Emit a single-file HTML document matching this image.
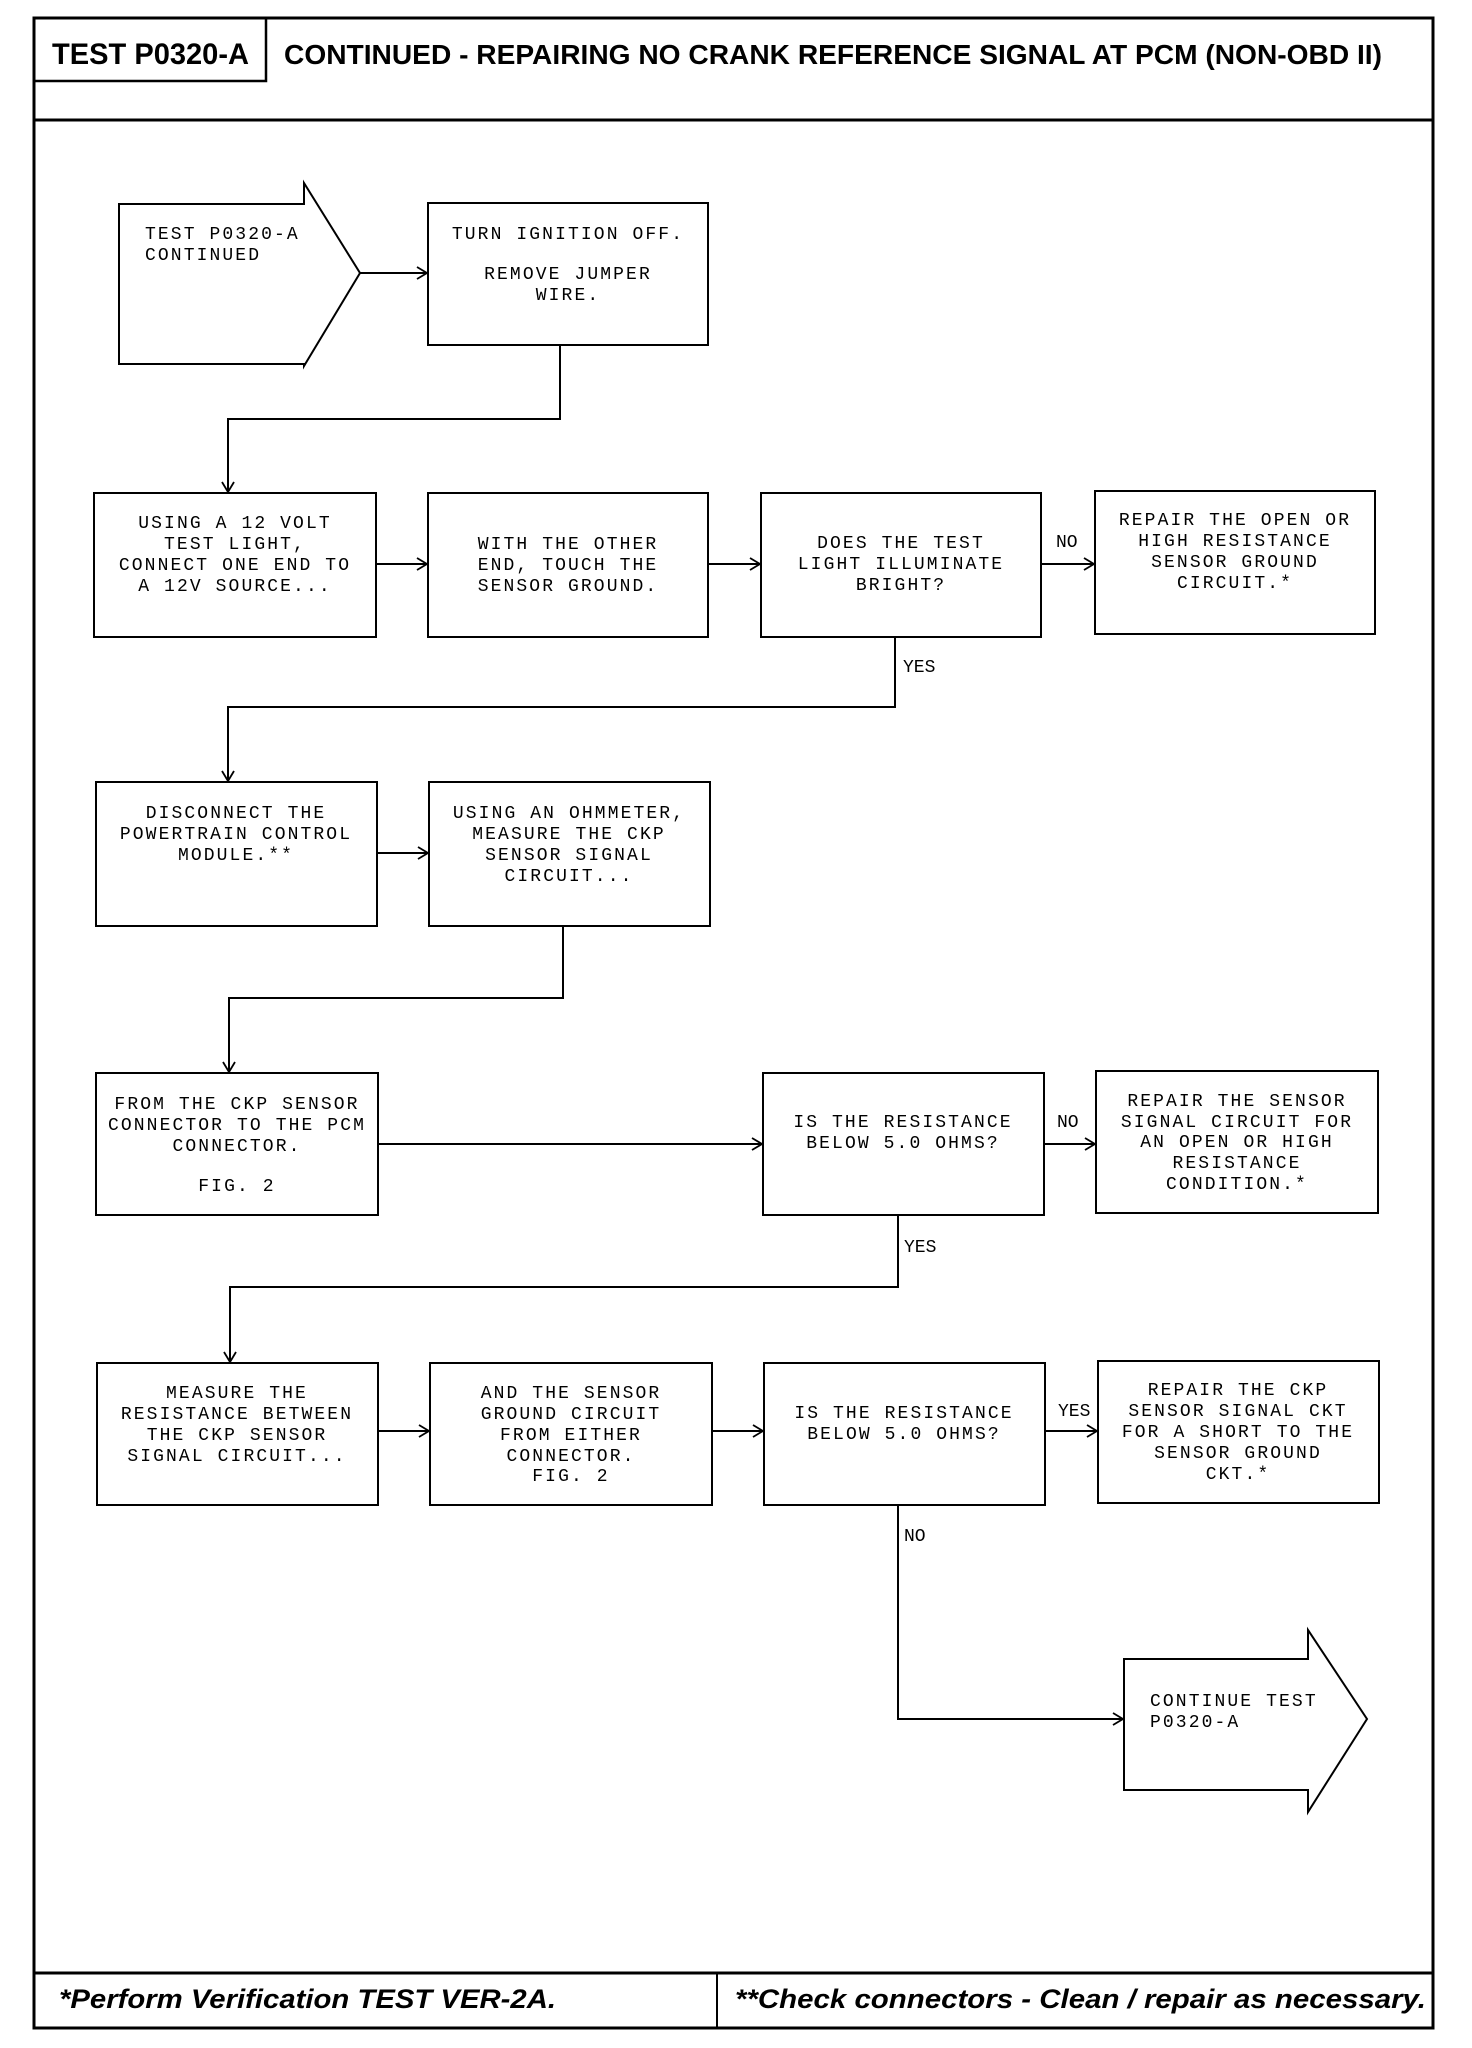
<!DOCTYPE html>
<html><head><meta charset="utf-8"><style>
html,body{margin:0;padding:0;background:#fff;}
svg{display:block;}
.t{font-family:"Liberation Mono",monospace;font-size:18px;letter-spacing:2.1px;fill:#000;}
.c{text-anchor:middle;}
</style></head><body>
<svg width="1472" height="2048" viewBox="0 0 1472 2048" xmlns="http://www.w3.org/2000/svg">
<g fill="none" stroke="#000" stroke-width="2">
<!-- frame -->
<rect x="34" y="18" width="1399" height="2010" stroke-width="3"/>
<line x1="34" y1="120" x2="1433" y2="120" stroke-width="3"/>
<polyline points="34,81 266,81 266,18" stroke-width="2.5"/>
<line x1="34" y1="1973" x2="1433" y2="1973" stroke-width="3"/>
<line x1="717" y1="1973" x2="717" y2="2028" stroke-width="2"/>
<!-- start arrow -->
<polygon points="119,204 304,204 304,183 360,273 304,366 304,364 119,364"/>
<rect x="428" y="203" width="280" height="142"/>
<!-- row2 -->
<rect x="94" y="493" width="282" height="144"/>
<rect x="428" y="493" width="280" height="144"/>
<rect x="761" y="493" width="280" height="144"/>
<rect x="1095" y="491" width="280" height="143"/>
<!-- row3 -->
<rect x="96" y="782" width="281" height="144"/>
<rect x="429" y="782" width="281" height="144"/>
<!-- row4 -->
<rect x="96" y="1073" width="282" height="142"/>
<rect x="763" y="1073" width="281" height="142"/>
<rect x="1096" y="1071" width="282" height="142"/>
<!-- row5 -->
<rect x="97" y="1363" width="281" height="142"/>
<rect x="430" y="1363" width="282" height="142"/>
<rect x="764" y="1363" width="281" height="142"/>
<rect x="1098" y="1361" width="281" height="142"/>
<!-- end arrow -->
<polygon points="1124,1659 1308,1659 1308,1630 1367,1719 1308,1812 1308,1790 1124,1790"/>
<!-- connectors -->
<line x1="360" y1="273" x2="426" y2="273"/>
<polyline points="560,345 560,419 228,419 228,491"/>
<line x1="376" y1="564" x2="426" y2="564"/>
<line x1="708" y1="564" x2="759" y2="564"/>
<line x1="1041" y1="564" x2="1093" y2="564"/>
<polyline points="895,637 895,707 228,707 228,780"/>
<line x1="376" y1="853" x2="427" y2="853"/>
<polyline points="563,926 563,998 229,998 229,1071"/>
<line x1="377" y1="1144" x2="761" y2="1144"/>
<line x1="1044" y1="1144" x2="1094" y2="1144"/>
<polyline points="898,1215 898,1287 230,1287 230,1361"/>
<line x1="378" y1="1431" x2="428" y2="1431"/>
<line x1="712" y1="1431" x2="762" y2="1431"/>
<line x1="1045" y1="1431" x2="1096" y2="1431"/>
<polyline points="898,1505 898,1719 1122,1719"/>
<!-- arrowheads -->
<g stroke-width="1.8">
<polyline points="417,267 427,273 417,279"/>
<polyline points="222,482 228,492 234,482"/>
<polyline points="417,558 427,564 417,570"/>
<polyline points="750,558 760,564 750,570"/>
<polyline points="1084,558 1094,564 1084,570"/>
<polyline points="222,771 228,781 234,771"/>
<polyline points="418,847 428,853 418,859"/>
<polyline points="223,1062 229,1072 235,1062"/>
<polyline points="752,1138 762,1144 752,1150"/>
<polyline points="1085,1138 1095,1144 1085,1150"/>
<polyline points="224,1352 230,1362 236,1352"/>
<polyline points="419,1425 429,1431 419,1437"/>
<polyline points="753,1425 763,1431 753,1437"/>
<polyline points="1087,1425 1097,1431 1087,1437"/>
<polyline points="1113,1713 1123,1719 1113,1725"/>
</g>
</g>
<!-- header text -->
<text x="52" y="64" font-family="Liberation Sans,sans-serif" font-weight="bold" font-size="30" textLength="197" lengthAdjust="spacingAndGlyphs">TEST P0320-A</text>
<text x="284" y="64" font-family="Liberation Sans,sans-serif" font-weight="bold" font-size="28" textLength="1098" lengthAdjust="spacingAndGlyphs">CONTINUED - REPAIRING NO CRANK REFERENCE SIGNAL AT PCM (NON-OBD II)</text>
<text x="59" y="2008" font-family="Liberation Sans,sans-serif" font-weight="bold" font-style="italic" font-size="27" textLength="497" lengthAdjust="spacingAndGlyphs">*Perform Verification TEST VER-2A.</text>
<text x="735" y="2008" font-family="Liberation Sans,sans-serif" font-weight="bold" font-style="italic" font-size="27" textLength="691" lengthAdjust="spacingAndGlyphs">**Check connectors - Clean / repair as necessary.</text>
<!-- box text -->
<g class="t">
<text x="145" y="239">TEST P0320-A</text>
<text x="145" y="260">CONTINUED</text>
<g class="c">
<text x="568" y="239">TURN IGNITION OFF.</text>
<text x="568" y="279">REMOVE JUMPER</text>
<text x="568" y="300">WIRE.</text>
<text x="235" y="528">USING A 12 VOLT</text>
<text x="235" y="549">TEST LIGHT,</text>
<text x="235" y="570">CONNECT ONE END TO</text>
<text x="235" y="591">A 12V SOURCE...</text>
<text x="568" y="549">WITH THE OTHER</text>
<text x="568" y="570">END, TOUCH THE</text>
<text x="568" y="591">SENSOR GROUND.</text>
<text x="901" y="548">DOES THE TEST</text>
<text x="901" y="569">LIGHT ILLUMINATE</text>
<text x="901" y="590">BRIGHT?</text>
<text x="1235" y="525">REPAIR THE OPEN OR</text>
<text x="1235" y="546">HIGH RESISTANCE</text>
<text x="1235" y="567">SENSOR GROUND</text>
<text x="1235" y="588">CIRCUIT.*</text>
<text x="236" y="818">DISCONNECT THE</text>
<text x="236" y="839">POWERTRAIN CONTROL</text>
<text x="236" y="860">MODULE.**</text>
<text x="569" y="818">USING AN OHMMETER,</text>
<text x="569" y="839">MEASURE THE CKP</text>
<text x="569" y="860">SENSOR SIGNAL</text>
<text x="569" y="881">CIRCUIT...</text>
<text x="237" y="1109">FROM THE CKP SENSOR</text>
<text x="237" y="1130">CONNECTOR TO THE PCM</text>
<text x="237" y="1151">CONNECTOR.</text>
<text x="237" y="1191">FIG. 2</text>
<text x="903" y="1127">IS THE RESISTANCE</text>
<text x="903" y="1148">BELOW 5.0 OHMS?</text>
<text x="1237" y="1106">REPAIR THE SENSOR</text>
<text x="1237" y="1127">SIGNAL CIRCUIT FOR</text>
<text x="1237" y="1147">AN OPEN OR HIGH</text>
<text x="1237" y="1168">RESISTANCE</text>
<text x="1237" y="1189">CONDITION.*</text>
<text x="237" y="1398">MEASURE THE</text>
<text x="237" y="1419">RESISTANCE BETWEEN</text>
<text x="237" y="1440">THE CKP SENSOR</text>
<text x="237" y="1461">SIGNAL CIRCUIT...</text>
<text x="571" y="1398">AND THE SENSOR</text>
<text x="571" y="1419">GROUND CIRCUIT</text>
<text x="571" y="1440">FROM EITHER</text>
<text x="571" y="1461">CONNECTOR.</text>
<text x="571" y="1481">FIG. 2</text>
<text x="904" y="1418">IS THE RESISTANCE</text>
<text x="904" y="1439">BELOW 5.0 OHMS?</text>
<text x="1238" y="1395">REPAIR THE CKP</text>
<text x="1238" y="1416">SENSOR SIGNAL CKT</text>
<text x="1238" y="1437">FOR A SHORT TO THE</text>
<text x="1238" y="1458">SENSOR GROUND</text>
<text x="1238" y="1479">CKT.*</text>
</g>
<text x="1150" y="1706">CONTINUE TEST</text>
<text x="1150" y="1727">P0320-A</text>
<text x="1056" y="547" letter-spacing="0">NO</text>
<text x="903" y="672" letter-spacing="0">YES</text>
<text x="1057" y="1127" letter-spacing="0">NO</text>
<text x="904" y="1252" letter-spacing="0">YES</text>
<text x="1058" y="1416" letter-spacing="0">YES</text>
<text x="904" y="1541" letter-spacing="0">NO</text>
</g>
</svg>
</body></html>
